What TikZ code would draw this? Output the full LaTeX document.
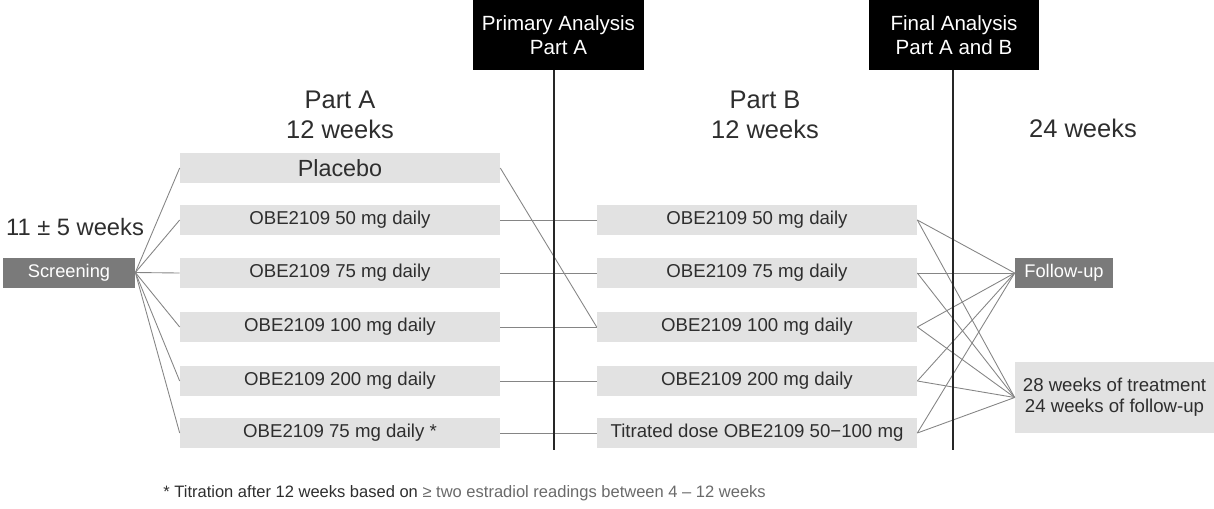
\documentclass[tikz,border=0pt]{standalone}
\usepackage{fontspec}
\setmainfont{Liberation Sans}
\usepackage{tikz}
\usetikzlibrary{positioning}
\definecolor{boxgray}{HTML}{E2E2E2}
\definecolor{darkbox}{HTML}{7A7A7A}
\definecolor{txtgray}{HTML}{2E2E2E}
\definecolor{linegray}{HTML}{858585}
\definecolor{footgray}{HTML}{6A6A6A}

\begin{document}
\begin{tikzpicture}[x=0.02cm, y=-0.02cm,
  arm/.style={fill=boxgray, text=txtgray, minimum width=6.4cm, minimum height=0.6cm,
    inner sep=0pt, font=\fontsize{10.6}{12}\selectfont},
  stage/.style={fill=darkbox, text=white, minimum height=0.6cm, inner sep=0pt,
    font=\fontsize{10.4}{12}\selectfont},
  milestone/.style={fill=black, text=white, minimum width=3.42cm, minimum height=1.4cm,
    inner sep=0pt, align=center, font=\fontsize{11.7}{14}\selectfont},
  heading/.style={align=center, text=txtgray, font=\fontsize{14.5}{17}\selectfont},
  link/.style={draw=linegray, line width=0.5pt},
  cut/.style={draw=black!85, line width=0.8pt}
]
\useasboundingbox (0,0) rectangle (1214,508);

% analysis milestones
\node[milestone] (primary) at (558.5,35) {Primary Analysis\\Part A};
\node[milestone] (final) at (954,35) {Final Analysis\\Part A and B};
\coordinate (primaryend) at (554,450);
\coordinate (finalend) at (953,450);

% headings
\node[heading] (parta) at (340,115) {Part A\\12 weeks};
\node[heading] (partb) at (765,115) {Part B\\12 weeks};
\node[heading] (partc) at (1083,128) {24 weeks};
\node[heading, font=\fontsize{13.5}{16}\selectfont] (screenwk) at (75,227) {11 ± 5 weeks};

% screening
\node[stage, minimum width=2.64cm] (screen) at (69,272.5) {Screening};

% part A arms
\node[arm, font=\fontsize{13.3}{15}\selectfont] (aplac) at (340,168) {Placebo};
\node[arm] (a50) at (340,220) {OBE2109 50 mg daily};
\node[arm] (a75) at (340,273) {OBE2109 75 mg daily};
\node[arm] (a100) at (340,327) {OBE2109 100 mg daily};
\node[arm] (a200) at (340,381) {OBE2109 200 mg daily};
\node[arm] (atit) at (340,433) {OBE2109 75 mg daily *};

% part B arms
\node[arm] (b50) at (757,220) {OBE2109 50 mg daily};
\node[arm] (b75) at (757,273) {OBE2109 75 mg daily};
\node[arm] (b100) at (757,327) {OBE2109 100 mg daily};
\node[arm] (b200) at (757,381) {OBE2109 200 mg daily};
\node[arm] (btit) at (757,433) {Titrated dose OBE2109 50−100 mg};

% follow-up
\node[stage, minimum width=1.96cm] (follow) at (1064,273) {Follow-up};
\node[arm, minimum width=3.98cm, minimum height=1.42cm, align=center] (note) at (1114.5,397.5)
  {28 weeks of treatment\\24 weeks of follow-up};

% connectors
\foreach \a in {aplac,a50,a75,a100,a200,atit}
  \draw[link] (screen.east) -- (\a.west);
\draw[link] (a50.east) -- (b50.west);
\draw[link] (a75.east) -- (b75.west);
\draw[link] (a100.east) -- (b100.west);
\draw[link] (a200.east) -- (b200.west);
\draw[link] (atit.east) -- (btit.west);
\draw[link] (aplac.east) -- (b100.west);
\foreach \b in {b50,b75,b100,b200,btit} {
  \draw[link] (\b.east) -- (follow.west);
  \draw[link] (\b.east) -- (note.west);
}
\draw[cut] (primary.south -| primaryend) -- (primaryend);
\draw[cut] (final.south -| finalend) -- (finalend);

% footnote
\node[anchor=west, inner sep=0pt, font=\fontsize{9.4}{11}\selectfont] (foot) at (163,493)
  {\textcolor{txtgray}{* Titration after 12 weeks based on} \textcolor{footgray}{≥ two estradiol readings between 4 – 12 weeks}};
\end{tikzpicture}
\end{document}
